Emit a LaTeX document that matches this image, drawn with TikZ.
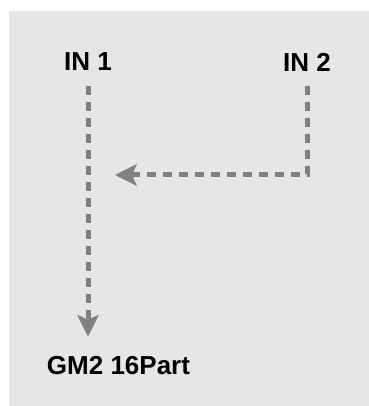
\documentclass[tikz,border=0pt]{standalone}
\usepackage{fontspec}
\setmainfont{Liberation Sans}
\usetikzlibrary{arrows.meta}
\definecolor{panel}{HTML}{E6E6E6}
\definecolor{wire}{HTML}{808080}
\tikzset{
  portname/.style={font=\bfseries\fontsize{26}{31}\selectfont, inner sep=0pt},
  signal/.style={draw=wire, line width=5pt, dash pattern=on 9pt off 7pt,
    -{Stealth[length=22pt, width=22pt, inset=5pt, line width=0pt, fill=wire]}},
}
\begin{document}
\begin{tikzpicture}[scale=0.3515]
    \useasboundingbox (0,0) rectangle (36.9,40.6);
    \fill[panel] (0.9,0) rectangle (36.9,39.5);

    \node[portname] (in1) at (8.8,34.4) {IN 1};
    \node[portname] (in2) at (30.7,34.4) {IN 2};
    \node[portname] (out) at (11.85,4.0) {GM2 16Part};
    \coordinate (merge) at (11.5,23.1);

    \draw[signal, shorten <=15pt, shorten >=20pt] (in1.south) -- (in1.south |- out.north);
    \draw[signal, shorten <=15pt] (in2.south) |- (merge);
\end{tikzpicture}
\end{document}
